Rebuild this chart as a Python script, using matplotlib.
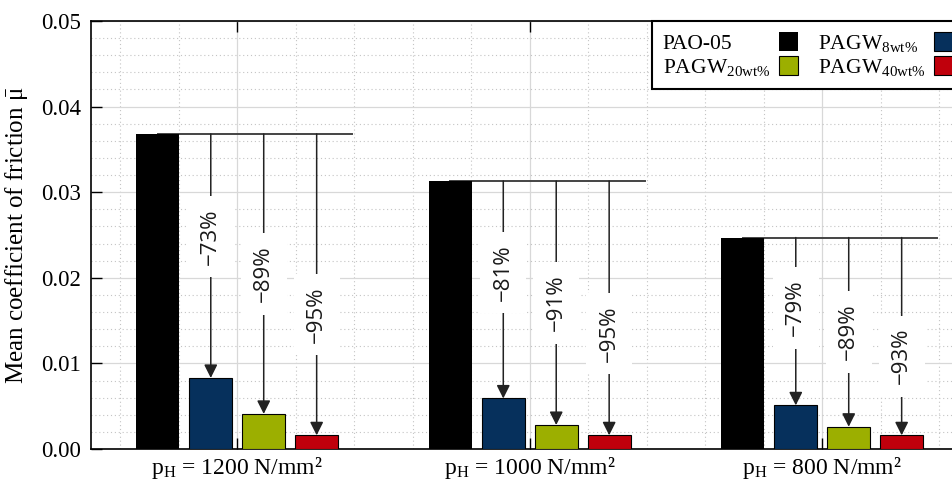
import numpy as np
import matplotlib
matplotlib.use("Agg")
import matplotlib.pyplot as plt
from matplotlib.ticker import MultipleLocator, FormatStrFormatter

# --- data ---
pressures = ["1200", "1000", "800"]
series_labels = ["PAO-05", r"PAGW$_{\mathrm{8wt\%}}$",
                 r"PAGW$_{\mathrm{20wt\%}}$", r"PAGW$_{\mathrm{40wt\%}}$"]

# mean coefficient of friction, one value per contact pressure
mu_pao05 = [0.0368, 0.0313, 0.0247]
mu_pagw8 = [0.0083, 0.0059, 0.0051]
mu_pagw20 = [0.0041, 0.0028, 0.0026]
mu_pagw40 = [0.0016, 0.0016, 0.0016]

# reduction vs. PAO-05 in percent
red_pagw8 = [-73, -81, -79]
red_pagw20 = [-89, -91, -89]
red_pagw40 = [-95, -95, -93]

# --- style ---
colors = ["#000000", "#06305c", "#9caf00", "#c0000c"]
label_frac = [0.42, 0.50, 0.60]   # where the % label sits along each arrow

plt.rcParams["font.family"] = "Liberation Serif"
plt.rcParams["mathtext.fontset"] = "custom"
plt.rcParams["mathtext.rm"] = "Liberation Serif"
plt.rcParams["mathtext.it"] = "Liberation Serif:italic"

fig = plt.figure(figsize=(9.53, 4.86), dpi=100)
ax = fig.add_axes([91 / 953, 37 / 486, 877.5 / 953, 428 / 486])

x = np.arange(len(pressures))
step = 0.181
width = 0.147
values = [mu_pao05, mu_pagw8, mu_pagw20, mu_pagw40]
reductions = [red_pagw8, red_pagw20, red_pagw40]

bars = []
for i, (vals, col) in enumerate(zip(values, colors)):
    b = ax.bar(x + (i - 1.5) * step, vals, width, color=col,
               edgecolor="black" if i else "none", linewidth=0.8,
               label=series_labels[i], zorder=3)
    bars.append(b)

# reference line at PAO-05 level and arrows down to each PAGW bar
for g in range(len(pressures)):
    ref = mu_pao05[g]
    x0 = x[g] - 1.5 * step
    x1 = x[g] + 1.5 * step + width / 2 + 0.048
    ax.plot([x0, x1], [ref, ref], color="#444444", lw=1.4, zorder=2)
    for k in range(3):
        xb = x[g] + (k - 0.5) * step
        top = values[k + 1][g]
        ax.annotate("", xy=(xb, top), xytext=(xb, ref),
                    arrowprops=dict(arrowstyle="-|>", color="#222222", lw=1.1,
                                    mutation_scale=20, shrinkA=0, shrinkB=0),
                    zorder=4)
        ylab = ref - label_frac[k] * (ref - top)
        ax.text(xb, ylab, "\u2212%d%%" % abs(reductions[k][g]),
                rotation=90, ha="center", va="center", fontsize=16,
                family=["Open Sans", "DejaVu Sans"], color="#1a1a1a",
                bbox=dict(fc="white", ec="none", pad=9), zorder=5)

# axes
ax.set_xlim(-0.5, 2.5)
ax.set_ylim(0, 0.05)
ax.set_xticks(x)
ax.set_xticklabels([r"p$_{\mathrm{H}}$ = %s N/mm²" % p for p in pressures], fontsize=17)
ax.yaxis.set_major_locator(MultipleLocator(0.01))
ax.yaxis.set_major_formatter(FormatStrFormatter("%.2f"))
ax.yaxis.set_minor_locator(MultipleLocator(0.002))
ax.xaxis.set_minor_locator(MultipleLocator(0.2))
ax.tick_params(which="major", direction="in", length=8, width=1,
               top=True, right=True)
ax.tick_params(axis="y", which="major", pad=7, labelsize=16.5)
ax.tick_params(axis="x", which="major", pad=4)
ax.tick_params(which="minor", length=0)
ax.set_axisbelow(True)
ax.grid(which="major", color="#d8d8d8", lw=0.9, ls="-")
ax.grid(which="minor", color="#c4c4c4", lw=0.8, ls=(0, (1, 2.5)))
for s in ax.spines.values():
    s.set_linewidth(1.2)
ax.set_ylabel(r"Mean coefficient of friction $\bar{\mathrm{\mu}}$", fontsize=18, labelpad=8)

# legend: text first, square patch after it, two columns
order = [0, 2, 1, 3]
leg = ax.legend([bars[i] for i in order], [series_labels[i] for i in order],
                ncol=2, markerfirst=False, loc="upper left",
                bbox_to_anchor=(652 / 953, 1 - 21 / 486), bbox_transform=fig.transFigure,
                borderaxespad=0, fontsize=15.5, handlelength=0.9, handleheight=1.0,
                handletextpad=0.4, columnspacing=0.9, labelspacing=0.1,
                borderpad=0.5, fancybox=False, framealpha=1, edgecolor="black")
leg.get_frame().set_linewidth(1.5)
leg.set_zorder(10)

# left-align the labels inside each legend column, keep squares lined up
fig.canvas.draw()
renderer = fig.canvas.get_renderer()
pt = 72.0 / fig.dpi
for col in leg._legend_handle_box.get_children():
    items = col.get_children()
    widths = [it.get_children()[0].get_window_extent(renderer).width for it in items]
    wmax = max(widths)
    for it, w in zip(items, widths):
        it.sep = 0.4 * 15.5 + (wmax - w) * pt
    col.align = "baseline"

fig.savefig("out.png", dpi=100)
plt.close(fig)
